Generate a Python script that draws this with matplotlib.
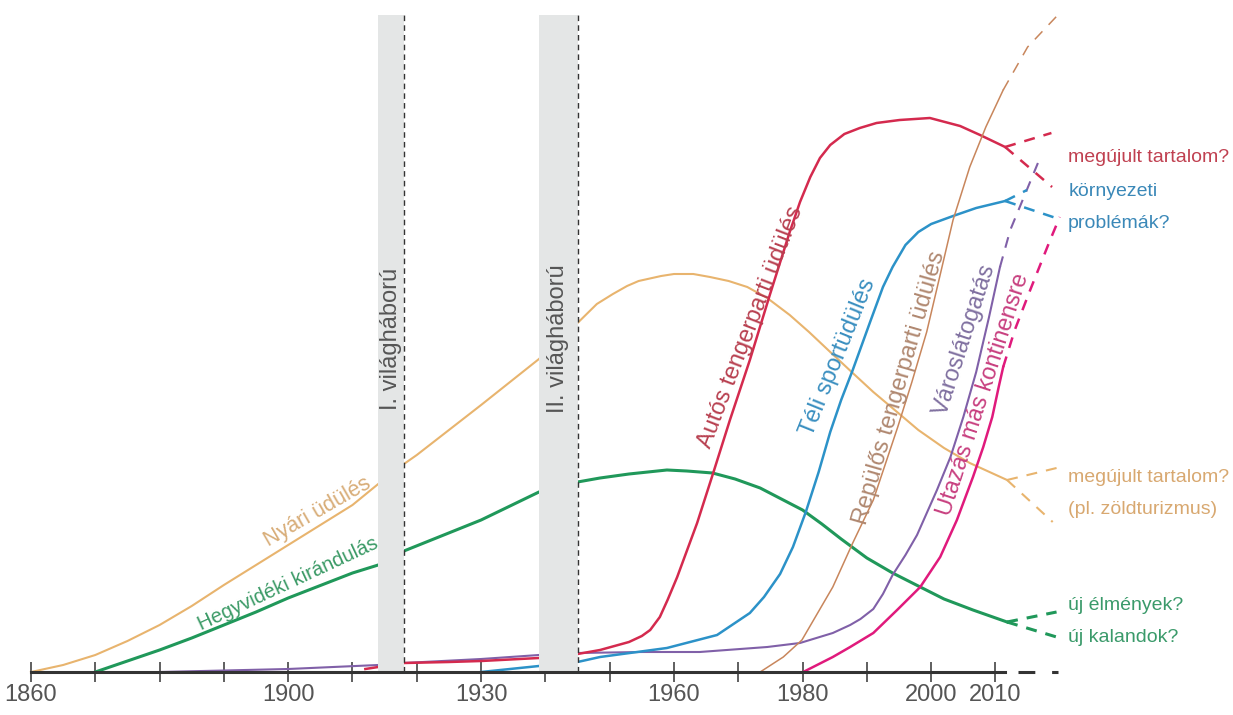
import matplotlib
matplotlib.use('Agg')
import matplotlib.pyplot as plt

plt.rcParams['font.family'] = ['Liberation Sans', 'DejaVu Sans']

# --- adatok (év, relatív népszerűség) ---
nyari_ev = [1860, 1865, 1870, 1875, 1880, 1885, 1890, 1895, 1900, 1905, 1910, 1914, 1918, 1920,
            1930, 1939, 1945, 1948, 1950.5, 1952.7, 1954.5, 1958, 1960, 1963, 1965.6, 1968.5,
            1971.4, 1974.5, 1978, 1981, 1984.3, 1987.8, 1991, 1994.7, 1998, 2002, 2006, 2011.8]
nyari = [0, 7, 17, 31, 47, 66, 87, 107, 127, 147, 167, 188, 208, 217,
         267, 313, 349, 368, 378, 386, 391, 396, 398, 398, 395, 391,
         385, 374, 357, 340, 320, 299, 280, 260, 242, 224, 209, 192]

hegy_ev = [1870, 1875, 1880, 1885, 1890, 1895, 1900, 1910, 1914, 1918, 1930, 1939, 1945, 1948.5,
           1953, 1958.9, 1962, 1966, 1969.5, 1973.4, 1977, 1980, 1983, 1986, 1990, 1994,
           1998.3, 2002, 2006.5, 2011.8]
hegy = [0, 11, 22, 34, 47, 60, 74, 99, 107, 121, 152, 180, 190, 194,
        198, 202, 201, 199, 193, 184, 172, 162, 148, 133, 114, 99,
        85, 73, 62, 50]

auto_ev = [1912, 1918, 1925, 1930, 1939, 1945, 1948.5, 1953, 1955, 1956.3, 1957.8, 1959,
           1960.5, 1963.6, 1966.1, 1968.7, 1971.8, 1974.9, 1978, 1979.6, 1981.2, 1982.7,
           1984.3, 1986.5, 1988.9, 1991.5, 1995.1, 1999.8, 2004.5, 2007.6, 2011.5]
auto = [3, 9, 10, 11, 14, 18, 22, 30, 36, 42, 55, 72,
        95, 149, 199, 252, 312, 377, 440, 470, 495, 514,
        527, 538, 544, 549, 552, 554, 546, 537, 525]

teli_ev = [1930, 1939, 1945, 1948.5, 1958.9, 1966.7, 1971.8, 1974, 1976.5, 1978.5, 1980.5, 1982.5,
           1984.3, 1986, 1987.8, 1990.5, 1992.5, 1994, 1996, 1998, 2000, 2003.4, 2007, 2011.5]
teli = [0, 6, 10, 15, 24, 37, 59, 75, 98, 125, 160, 200,
        240, 272, 302, 350, 385, 405, 427, 440, 448, 456, 464, 471]

repulo_ev = [1973.4, 1977, 1979.9, 1984.7, 1987.8, 1991, 1994.8, 1997, 1999.3, 2001.5, 2003.4,
             2006, 2008.5, 2011.2]
repulo = [0, 15, 32, 85, 129, 172, 245, 290, 340, 400, 452, 505, 545, 582]

varos_ev = [1880, 1900, 1914, 1918, 1930, 1939, 1945, 1955, 1964, 1974.5, 1979.6, 1984.7, 1987.4,
            1989, 1991, 1992.5, 1994, 1996, 1997.8, 2000.9, 2003, 2005, 2007, 2009, 2010.7]
varos = [0, 3, 7, 9, 13, 17, 19, 20, 20, 25, 29, 39, 47,
         53, 63, 78, 97, 117, 137, 182, 215, 255, 300, 355, 405]

kontinens_ev = [1980.1, 1984.7, 1987.4, 1991, 1994.7, 1998.3, 2001.4, 2004, 2006.5, 2008.1,
                2009.5, 2010.5, 2011.2]
kontinens = [0, 15, 25, 39, 62, 85, 115, 152, 195, 225, 255, 285, 305]

# szaggatott folytatások / elágazások: (évek, értékek)
repulo_tovabb = ([2011.2, 2015, 2019.7], [582, 625, 657])
varos_tovabb = ([2010.7, 2012.3, 2016.6], [405, 442, 509])
kontinens_tovabb = ([2011.2, 2013, 2015.4, 2018.5, 2020], [305, 342, 382, 432, 455])
auto_ag = [([2011.5, 2018.7], [525, 539]), ([2011.5, 2018.8], [525, 485])]
teli_ag = [([2011.5, 2014.9], [471, 482]), ([2011.5, 2019.4], [471, 454])]
nyari_ag = [([2011.8, 2019.5], [192, 204]), ([2011.8, 2018.9], [192, 150])]
hegy_ag = [([2011.8, 2019.5], [50, 60]), ([2011.8, 2019.5], [50, 35])]

haboruk = [(1914, 1918), (1939, 1945)]
haboru_nevek = ['I. világháború', 'II. világháború']

tick_evek = list(range(1860, 2011, 10))
tick_cimkek = ['1860', '', '', '', '1900', '', '', '1930', '', '', '1960', '', '1980', '', '2000', '2010']

# színek
C_NYARI = '#E8B46E'
C_HEGY = '#20985A'
C_AUTO = '#D42A4E'
C_TELI = '#2C92C8'
C_REPULO = '#C8865C'
C_VAROS = '#8060A8'
C_KONT = '#E01A7C'

fig = plt.figure(figsize=(12.33, 7.15), dpi=100)
ax = fig.add_axes([0, 0, 1, 1])
ax.set_xlim(1855.18, 2046.94)
ax.set_ylim(-43, 672)


def szaggatott(lw):
    # kb. 11 px vonal, 9 px hézag, vonalvastagságtól függetlenül
    return (0, (7.9 / lw, 6.5 / lw))


def vonal(ev, ert, szin, lw, ag=None, tovabb=None):
    ax.plot(ev, ert, color=szin, lw=lw, zorder=2, solid_joinstyle='round')
    if tovabb:
        ax.plot(tovabb[0], tovabb[1], color=szin, lw=lw, ls=szaggatott(lw), zorder=2)
    if ag:
        for a in ag:
            ax.plot(a[0], a[1], color=szin, lw=lw, ls=szaggatott(lw), zorder=2)


vonal(nyari_ev, nyari, C_NYARI, 1.5, ag=nyari_ag)
vonal(hegy_ev, hegy, C_HEGY, 2.2, ag=hegy_ag)
vonal(varos_ev, varos, C_VAROS, 1.5, tovabb=varos_tovabb)
vonal(auto_ev, auto, C_AUTO, 1.8, ag=auto_ag)
vonal(teli_ev, teli, C_TELI, 1.8, ag=teli_ag)
vonal(repulo_ev, repulo, C_REPULO, 1.1, tovabb=repulo_tovabb)
vonal(kontinens_ev, kontinens, C_KONT, 1.8, tovabb=kontinens_tovabb)

# háborús sávok
for (k, v), nev in zip(haboruk, haboru_nevek):
    ax.bar((k + v) / 2, 657, width=v - k, bottom=0, color='#E4E6E6', zorder=3)
    ax.vlines(v, 0, 657, colors='#333333', lw=1.0, linestyles=(0, (4, 3)), zorder=4)
    ax.text((k + v) / 2, 333, nev, rotation=90, ha='center', va='center',
            fontsize=17, color='#555555', zorder=5)

# tengely
for s in ['left', 'right', 'top']:
    ax.spines[s].set_visible(False)
ax.spines['bottom'].set_position(('data', 0))
ax.spines['bottom'].set_bounds(1860, 2011.5)
ax.spines['bottom'].set_linewidth(2.2)
ax.spines['bottom'].set_color('#333333')
ax.spines['bottom'].set_zorder(6)
ax.plot([2013.5, 2019.7], [0, 0], color='#333333', lw=2.2, ls=(0, (5.5, 5.5)), zorder=6)
ax.set_xticks(tick_evek)
ax.set_xticklabels(tick_cimkek)
ax.set_yticks([])
ax.tick_params(axis='x', direction='inout', length=15, width=1.2, color='#444444',
               labelsize=17, labelcolor='#555555', pad=1)

# feliratok a görbéken
cimkek = [
    ('Nyári üdülés', 1904.6, 160, 30, 15.5, '#D8AD78'),
    ('Hegyvidéki kirándulás', 1900.0, 88, 25, 14.5, '#3B9A66'),
    ('Autós tengerparti üdülés', 1972.0, 345, 69, 17, '#B84050'),
    ('Téli sportüdülés', 1985.5, 315, 68, 17, '#3A8FC0'),
    ('Repülős tengerparti üdülés', 1995.1, 284, 74, 17, '#B08870'),
    ('Városlátogatás', 2005.2, 332, 72, 17, '#8070A0'),
    ('Utazás más kontinensre', 2008.2, 277, 72, 17, '#C84080'),
]
for szoveg, x, y, rot, meret, szin in cimkek:
    ax.text(x, y, szoveg, rotation=rot, rotation_mode='anchor', ha='center', va='center',
            fontsize=meret, color=szin, zorder=5)

# jobb oldali kérdések
kerdesek = [
    ('megújult tartalom?', 515, '#C04050'),
    ('környezeti', 481, '#3A88B8'),
    ('problémák?', 449, '#3A88B8'),
    ('megújult tartalom?', 195, '#D8A870'),
    ('(pl. zöldturizmus)', 163, '#D8A870'),
    ('új élmények?', 66, '#3A9A6A'),
    ('új kalandok?', 34, '#3A9A6A'),
]
for szoveg, y, szin in kerdesek:
    ax.text(2021.3, y, szoveg, ha='left', va='center', fontsize=14, color=szin)

plt.savefig('out.png', dpi=100)
plt.close()
